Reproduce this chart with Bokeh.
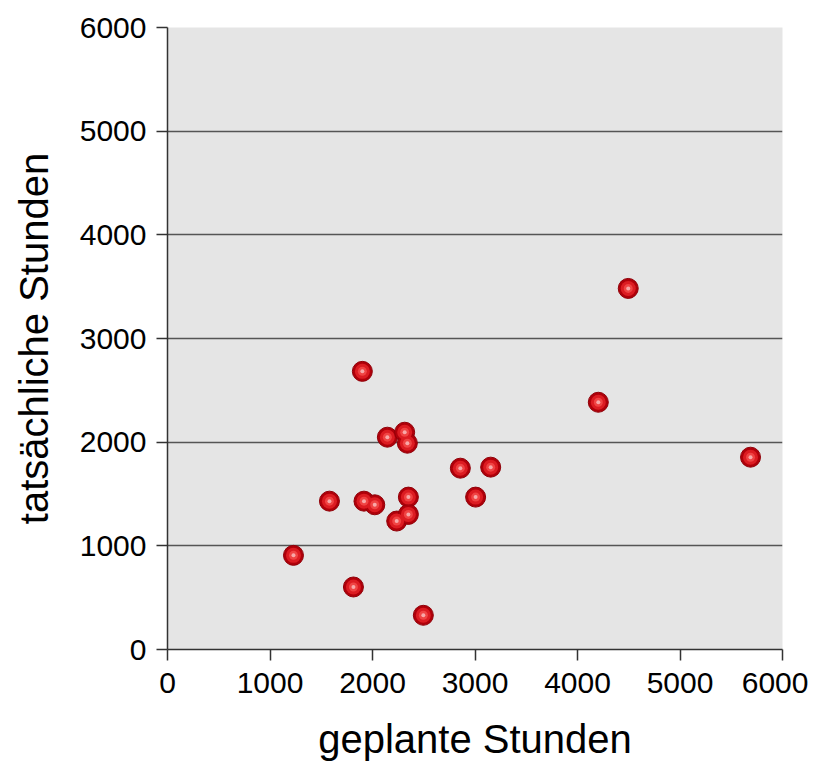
from bokeh.plotting import figure
from bokeh.models import Range1d, FixedTicker, ColumnDataSource
from bokeh.embed import file_html
from bokeh.resources import INLINE

geplant = [1901, 2145, 2314, 2340, 2857, 3153, 3006, 1580, 1917, 2022, 2350, 2236, 2350, 1229, 1814, 2496, 4495, 4203, 5688]
tatsaechlich = [2683, 2048, 2096, 1990, 1749, 1759, 1470, 1431, 1431, 1396, 1470, 1239, 1303, 908, 603, 330, 3483, 2385, 1855]
ticks = [0, 1000, 2000, 3000, 4000, 5000, 6000]

src = ColumnDataSource(dict(x=geplant, y=tatsaechlich))

p = figure(width=808, height=763, output_backend="svg", toolbar_location=None,
           x_range=Range1d(0, 6000), y_range=Range1d(0, 6000),
           min_border_left=167, min_border_right=26, min_border_top=27, min_border_bottom=114)
p.background_fill_color = "#e5e5e5"
p.border_fill_color = "white"
p.outline_line_color = None

p.xgrid.grid_line_color = None
p.ygrid.grid_line_color = "#555555"
p.ygrid.grid_line_width = 1.5
p.ygrid.ticker = FixedTicker(ticks=ticks)

for ax in (p.xaxis[0], p.yaxis[0]):
    ax.ticker = FixedTicker(ticks=ticks)
    ax.minor_tick_line_color = None
    ax.major_tick_in = 0
    ax.major_tick_out = 11
    ax.major_tick_line_color = "#333333"
    ax.major_tick_line_width = 1.5
    ax.axis_line_color = "#333333"
    ax.axis_line_width = 1.5
    ax.major_label_text_font = "Liberation Sans"
    ax.major_label_text_font_size = "30px"
    ax.major_label_text_color = "black"
    ax.axis_label_text_font = "Liberation Sans"
    ax.axis_label_text_font_size = "40px"
    ax.axis_label_text_font_style = "normal"
    ax.axis_label_text_color = "black"
    ax.major_label_standoff = 10

p.xaxis.major_label_standoff = 12
p.xaxis.axis_label = "geplante Stunden"
p.yaxis.axis_label = "tatsächliche Stunden"
p.xaxis.axis_label_standoff = 21
p.yaxis.axis_label_standoff = 21

# sphere-like markers
p.scatter("x", "y", source=src, size=20, fill_color="#b0000a", line_color="#900008", line_width=1)
p.scatter("x", "y", source=src, size=15, fill_color="#dc1c22", line_color=None)
p.scatter("x", "y", source=src, size=9, fill_color="#f04444", line_color=None)
p.scatter("x", "y", source=src, size=4, fill_color="#f8a8a8", line_color=None)

open("out.html", "w").write(file_html(p, INLINE))
